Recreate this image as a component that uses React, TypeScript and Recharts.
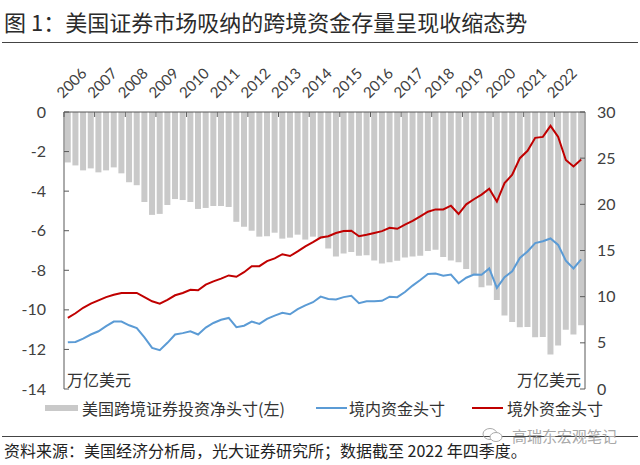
import { Bar, ComposedChart, Line, XAxis, YAxis } from "recharts";

const years = [
  "2006", "2007", "2008", "2009", "2010", "2011", "2012", "2013", "2014",
  "2015", "2016", "2017", "2018", "2019", "2020", "2021", "2022",
];
const quarters = years.flatMap((y) => ["Q1", "Q2", "Q3", "Q4"].map((q) => y + q));

// 美国跨境证券投资净头寸 (左轴, 万亿美元)
const netPosition = [
  -2.55, -2.7, -2.95, -2.85, -3.05, -2.95, -2.8, -3.1,
  -3.55, -3.7, -4.55, -5.2, -5.15, -4.7, -4.4, -4.45,
  -4.55, -4.9, -4.85, -4.75, -4.75, -4.8, -5.55, -5.8,
  -6.0, -6.3, -6.28, -6.1, -6.4, -6.35, -6.2, -6.45,
  -6.3, -6.4, -6.9, -7.3, -7.15, -7.07, -7.27, -7.24,
  -7.5, -7.66, -7.6, -7.52, -7.35, -7.3, -7.27, -7.03,
  -6.96, -7.33, -7.5, -7.59, -7.94, -8.22, -8.86, -8.77,
  -9.5, -10.28, -10.62, -10.88, -10.87, -11.38, -11.37, -12.25,
  -11.8, -11.0, -11.25, -10.78,
];

// 境内资金头寸 (右轴)
const domesticFunds = [
  5.05, 5.1, 5.45, 5.9, 6.25, 6.8, 7.3, 7.3,
  6.9, 6.6, 5.6, 4.45, 4.2, 5.0, 5.9, 6.05,
  6.25, 5.9, 6.65, 7.15, 7.5, 7.7, 6.7, 6.85,
  7.3, 7.05, 7.6, 7.95, 8.25, 8.1, 8.65, 9.05,
  9.4, 10.0, 9.75, 9.7, 9.95, 10.1, 9.3, 9.5,
  9.5, 9.55, 10.0, 9.95, 10.5, 11.2, 11.8, 12.45,
  12.5, 12.27, 12.4, 11.45, 12.05, 12.4, 12.38, 13.05,
  10.95, 12.1, 12.75, 14.2, 14.9, 15.8, 16.0, 16.3,
  15.6, 13.9, 13.05, 14.05,
];

// 境外资金头寸 (右轴)
const foreignFunds = [
  7.7, 8.2, 8.8, 9.25, 9.6, 9.95, 10.2, 10.4,
  10.4, 10.4, 9.95, 9.5, 9.25, 9.65, 10.15, 10.4,
  10.75, 10.7, 11.3, 11.65, 11.95, 12.3, 12.15, 12.65,
  13.3, 13.3, 13.85, 14.15, 14.6, 14.4, 14.9, 15.45,
  15.9, 16.4, 16.55, 16.9, 17.1, 17.15, 16.55, 16.7,
  16.9, 17.1, 17.45, 17.35, 17.8, 18.2, 18.7, 19.2,
  19.45, 19.45, 19.85, 18.95, 20.0, 20.55, 21.05, 21.7,
  20.3, 22.3, 23.2, 25.0, 25.8, 27.2, 27.3, 28.5,
  27.3, 24.8, 24.1, 24.85,
];

const leftTicks = [0, -2, -4, -6, -8, -10, -12, -14];
const rightTicks = [0, 5, 10, 15, 20, 25, 30];

const data = quarters.map((q, i) => ({
  q,
  net: netPosition[i],
  domestic: domesticFunds[i],
  foreign: foreignFunds[i],
}));

const W = 640;
const H = 465;
const margin = { top: 82, right: 15, bottom: 76, left: 24 };
const plotW = W - margin.left - margin.right - 80;
const band = plotW / data.length;

const axisColor = "#595959";
const tickFont = "Lato, 'Noto Sans CJK SC', sans-serif";
const cjk = "'Noto Sans CJK SC', sans-serif";

function YearTick({ x, y, payload }: any) {
  const bx = x - band / 2;
  const ay = y + 13;
  return (
    <g>
      <line x1={bx} x2={bx} y1={ay} y2={ay + 5} stroke={axisColor} />
      <text
        transform={`translate(${bx - 1},${y}) rotate(-45)`}
        fontSize={15}
        fontFamily={tickFont}
        fill="#404040"
      >
        {String(payload.value).slice(0, 4)}
      </text>
    </g>
  );
}

function LeftTick({ x, y, payload }: any) {
  const ax = x + 18;
  return (
    <g>
      <line x1={ax} x2={ax + 5} y1={y} y2={y} stroke={axisColor} />
      <text x={x} y={y} dy="0.35em" textAnchor="end" fontSize={16} fontFamily={tickFont} fill="#404040">
        {payload.value}
      </text>
    </g>
  );
}

function RightTick({ x, y, payload }: any) {
  const ax = x - 12;
  return (
    <g>
      <line x1={ax - 5} x2={ax} y1={y} y2={y} stroke={axisColor} />
      <text x={x} y={y} dy="0.35em" textAnchor="start" fontSize={16} fontFamily={tickFont} fill="#404040">
        {payload.value}
      </text>
    </g>
  );
}

export default function App() {
  return (
    <div style={{ position: "absolute", left: 0, top: 0, width: W, height: H, background: "#fff", fontFamily: cjk }}>
      <div style={{ position: "absolute", left: 4, top: 5, fontSize: 22, color: "#2b2b2b", whiteSpace: "nowrap" }}>
        图 1：美国证券市场吸纳的跨境资金存量呈现收缩态势
      </div>
      <div style={{ position: "absolute", left: 2, top: 42, width: 636, height: 1, background: "#444" }} />

      <ComposedChart width={W} height={H} data={data} margin={margin} style={{ position: "absolute", left: 0, top: 0 }}>
        <XAxis
          dataKey="q"
          orientation="top"
          height={30}
          interval={3}
          tickSize={0}
          tickMargin={13}
          tickLine={false}
          axisLine={{ stroke: axisColor }}
          tick={<YearTick />}
        />
        <YAxis
          yAxisId="left"
          domain={[-14, 0]}
          ticks={leftTicks}
          width={40}
          tickSize={0}
          tickMargin={18}
          tickLine={false}
          axisLine={{ stroke: axisColor }}
          tick={<LeftTick />}
        />
        <YAxis
          yAxisId="right"
          orientation="right"
          domain={[0, 30]}
          ticks={rightTicks}
          width={40}
          tickSize={0}
          tickMargin={12}
          tickLine={false}
          axisLine={{ stroke: axisColor }}
          tick={<RightTick />}
        />
        <Bar yAxisId="left" dataKey="net" fill="#c9c9c9" barCategoryGap="20%" isAnimationActive={false} />
        <Line
          yAxisId="right"
          type="linear"
          dataKey="domestic"
          stroke="#5b9bd5"
          strokeWidth={2}
          dot={false}
          isAnimationActive={false}
        />
        <Line
          yAxisId="right"
          type="linear"
          dataKey="foreign"
          stroke="#c00000"
          strokeWidth={2}
          dot={false}
          isAnimationActive={false}
        />
      </ComposedChart>

      <div style={{ position: "absolute", left: 67, top: 367, fontSize: 16, color: "#333" }}>万亿美元</div>
      <div style={{ position: "absolute", right: 59, top: 367, fontSize: 16, color: "#333" }}>万亿美元</div>

      <div style={{ position: "absolute", left: 45, top: 405, width: 33, height: 6, background: "#c9c9c9" }} />
      <div style={{ position: "absolute", left: 82, top: 396, fontSize: 16, color: "#333", whiteSpace: "nowrap" }}>
        美国跨境证券投资净头寸(左)
      </div>
      <div style={{ position: "absolute", left: 316, top: 407, width: 31, height: 2, background: "#5b9bd5" }} />
      <div style={{ position: "absolute", left: 349, top: 396, fontSize: 16, color: "#333", whiteSpace: "nowrap" }}>
        境内资金头寸
      </div>
      <div style={{ position: "absolute", left: 472, top: 407, width: 31, height: 2, background: "#c00000" }} />
      <div style={{ position: "absolute", left: 507, top: 396, fontSize: 16, color: "#333", whiteSpace: "nowrap" }}>
        境外资金头寸
      </div>

      <div style={{ position: "absolute", left: 2, top: 436, width: 636, height: 1, background: "#444" }} />
      <svg style={{ position: "absolute", left: 482, top: 427 }} width={22} height={16}>
        <ellipse cx={8} cy={7} rx={7} ry={5.5} fill="none" stroke="#aaa" strokeWidth={1} />
        <ellipse cx={14} cy={10} rx={6} ry={4.5} fill="#fff" stroke="#aaa" strokeWidth={1} />
      </svg>
      <div style={{ position: "absolute", left: 512, top: 425, fontSize: 15, color: "#a8a8a8", whiteSpace: "nowrap" }}>
        高瑞东宏观笔记
      </div>
      <div style={{ position: "absolute", left: 4, top: 438, fontSize: 16, color: "#222", whiteSpace: "nowrap" }}>
        资料来源：美国经济分析局，光大证券研究所；数据截至 2022 年四季度。
      </div>
    </div>
  );
}
